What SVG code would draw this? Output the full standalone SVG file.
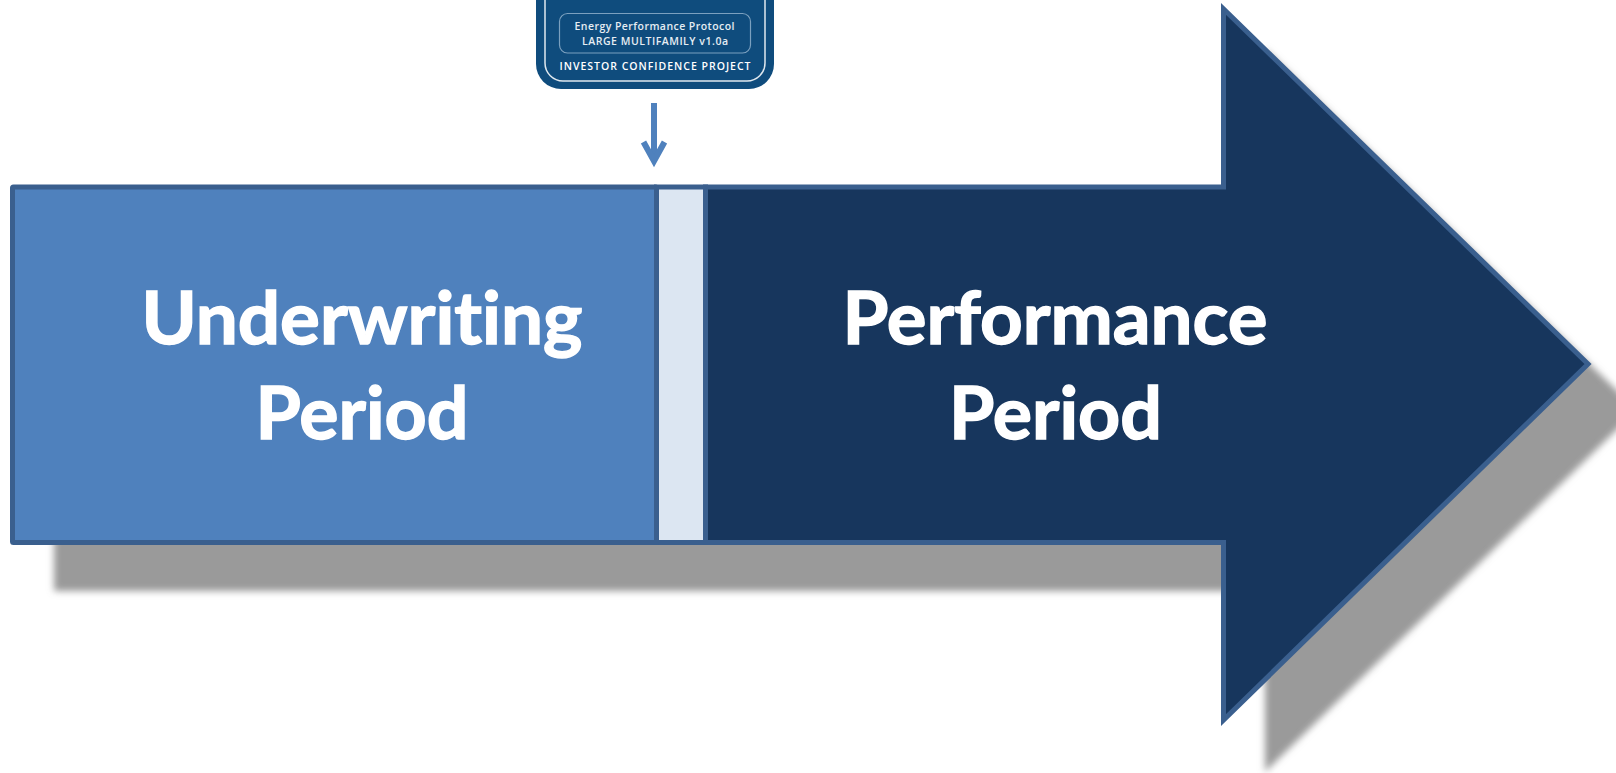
<svg xmlns="http://www.w3.org/2000/svg" width="1616" height="773" viewBox="0 0 1616 773">
<defs>
<filter id="blur" x="-5%" y="-5%" width="110%" height="110%"><feGaussianBlur stdDeviation="3.500"/></filter>
<style>
.big{font-family:"Lato","Open Sans","Liberation Sans",sans-serif;font-weight:700;font-size:72px;fill:#fff;stroke:#fff;stroke-width:1.400px;text-anchor:middle;font-variant-ligatures:none}
.small{font-family:"Open Sans","Noto Sans","Liberation Sans",sans-serif;font-weight:600;font-size:10.500px;fill:#e6edf3;text-anchor:middle}
.edge{stroke:#3a5f8e;stroke-width:5}
</style>
</defs>
<rect width="1616" height="773" fill="#fff"/>
<g id="shadow" filter="url(#blur)"><path d="M54 228H1265V49L1637 410L1265 772V591H54Z" fill="#9a9a9a"/></g>
<g id="performance-period">
<path class="edge" d="M705.500 187H1223.500V9L1588 364L1223.500 720V542.500H705.500Z" fill="#17365d"/>
<text class="big" x="1055" y="344" textLength="425" lengthAdjust="spacingAndGlyphs">Performance</text>
<text class="big" x="1055.500" y="439" textLength="213" lengthAdjust="spacingAndGlyphs">Period</text>
</g>
<g id="gap"><rect class="edge" x="656.500" y="187" width="49" height="355.500" fill="#dce6f2"/></g>
<g id="underwriting-period">
<rect class="edge" x="12.500" y="187" width="644" height="355.500" rx="1" fill="#4f81bd" stroke-linejoin="round"/>
<text class="big" x="362" y="344" textLength="441" lengthAdjust="spacingAndGlyphs">Underwriting</text>
<text class="big" x="362" y="439" textLength="213" lengthAdjust="spacingAndGlyphs">Period</text>
</g>
<g id="badge">
<rect x="536" y="-40" width="238" height="129" rx="25" fill="#0f4c7d"/>
<rect x="545" y="-40" width="220" height="121" rx="18" fill="none" stroke="#dfe8ef" stroke-width="1.500"/>
<rect x="559.500" y="13.500" width="191" height="39.500" rx="8" fill="none" stroke="#7ba0bf" stroke-width="1.200"/>
<text class="small" x="654.500" y="30" textLength="160" lengthAdjust="spacing">Energy Performance Protocol</text>
<text class="small" x="655" y="44.500" textLength="146" lengthAdjust="spacing">LARGE MULTIFAMILY v1.0a</text>
<text class="small" x="655" y="70" textLength="191" lengthAdjust="spacing" style="fill:#fff">INVESTOR CONFIDENCE PROJECT</text>
</g>
<g id="connectors" fill="none" stroke="#4f81bd" stroke-width="6">
<path d="M654 103V158"/>
<path d="M643.500 142L654 161L664.500 142"/>
</g>
</svg>
